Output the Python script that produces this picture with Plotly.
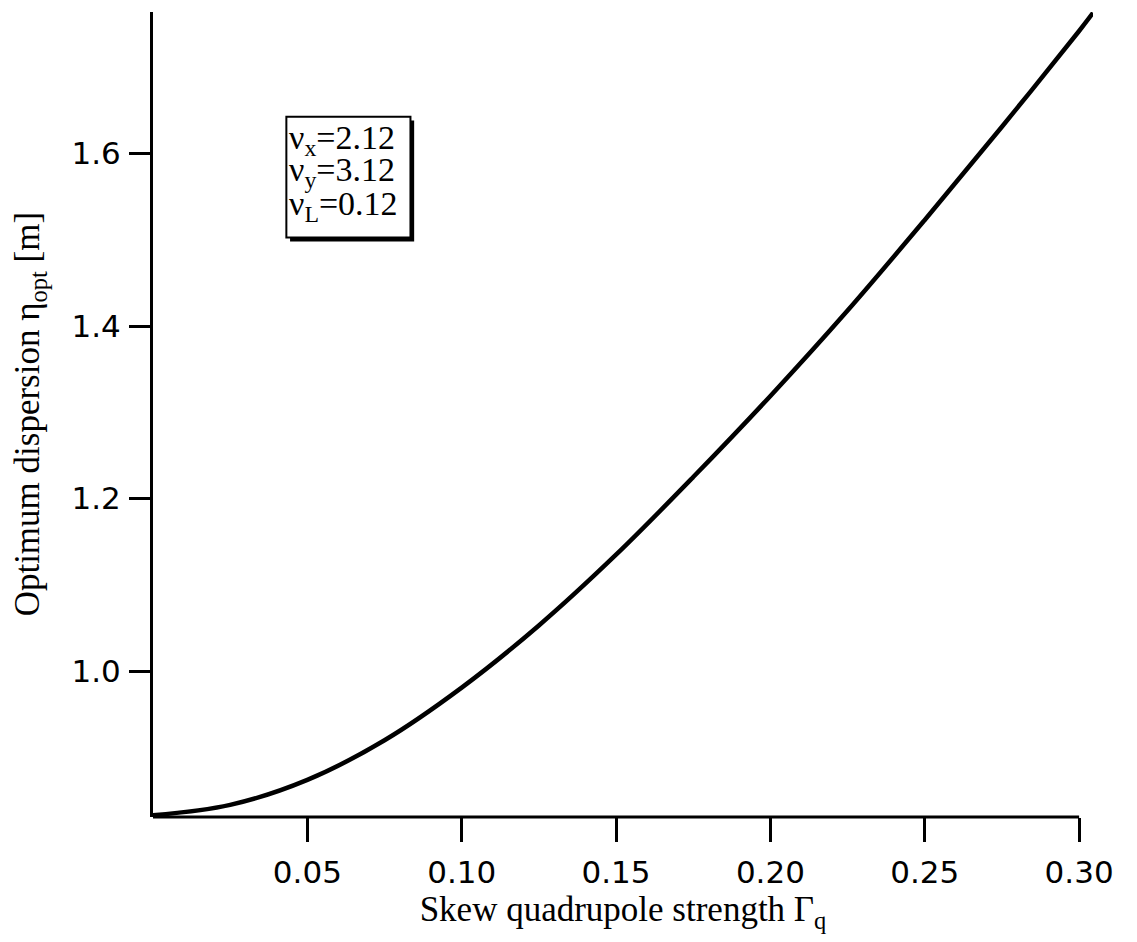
import plotly.graph_objects as go

# Data
gamma_q = [0.0, 0.025, 0.05, 0.075, 0.10, 0.125, 0.15, 0.175,
           0.20, 0.225, 0.25, 0.275, 0.30, 0.3045]
eta_opt = [0.833, 0.845, 0.874, 0.920, 0.981, 1.053, 1.135, 1.225,
           1.319, 1.418, 1.523, 1.631, 1.742, 1.763]

x_ticks = [0.05, 0.10, 0.15, 0.20, 0.25, 0.30]
x_ticklabels = ["0.05", "0.10", "0.15", "0.20", "0.25", "0.30"]
y_ticks = [1.0, 1.2, 1.4, 1.6]
y_ticklabels = ["1.0", "1.2", "1.4", "1.6"]

tune_lines = ["ν<sub>x</sub>=2.12", "ν<sub>y</sub>=3.12", "ν<sub>L</sub>=0.12"]

X_RANGE = [0.0, 0.3045]
Y_RANGE = [0.831, 1.764]

fig = go.Figure()
fig.add_trace(go.Scatter(x=gamma_q, y=eta_opt, mode="lines",
                         line=dict(color="black", width=4.5, shape="spline", smoothing=1.0),
                         showlegend=False, hoverinfo="skip"))

serif = "Liberation Serif, Times New Roman, serif"
sans = "DejaVu Sans, sans-serif"

fig.update_layout(
    width=1137, height=942,
    margin=dict(l=153, r=44, t=12, b=125),
    paper_bgcolor="white", plot_bgcolor="white",
    xaxis=dict(range=X_RANGE, showgrid=False, zeroline=False, showline=False,
               tickmode="array", tickvals=x_ticks, ticktext=x_ticklabels,
               ticks="outside", ticklen=24, tickwidth=3, tickcolor="black",
               ticklabelstandoff=4,
               tickfont=dict(family=sans, size=31, color="black"),
               title=dict(text="Skew quadrupole strength Γ<sub>q</sub>",
                          font=dict(family=serif, size=35, color="black"),
                          standoff=6)),
    yaxis=dict(range=Y_RANGE, showgrid=False, zeroline=False, showline=True,
               linecolor="black", linewidth=3, mirror=False,
               tickmode="array", tickvals=y_ticks, ticktext=y_ticklabels,
               ticks="outside", ticklen=21, tickwidth=3, tickcolor="black",
               ticklabelstandoff=2,
               tickfont=dict(family=sans, size=31, color="black")),
)

# y-axis title
fig.add_annotation(x=-0.131, y=0.5, xref="paper", yref="paper",
                   text="Optimum dispersion η<sub>opt</sub> [m]", textangle=-90,
                   showarrow=False, xanchor="center", yanchor="middle",
                   font=dict(family=serif, size=35, color="black"))

# x-axis line (ends at 0.30 like the reference)
fig.add_shape(type="line", xref="x", yref="paper", x0=0, x1=0.30, y0=0, y1=0,
              line=dict(color="black", width=3))

# Parameter box with drop shadow
bx0, bx1, by0, by1 = 0.0432, 0.0834, 1.5026, 1.6427
fig.add_shape(type="rect", xref="x", yref="y", x0=bx0 + 0.0012, x1=bx1 + 0.0012,
              y0=by0 - 0.0045, y1=by1 - 0.0045, line=dict(width=0),
              fillcolor="black", layer="above")
fig.add_shape(type="rect", xref="x", yref="y", x0=bx0, x1=bx1, y0=by0, y1=by1,
              line=dict(color="black", width=2), fillcolor="white", layer="above")

line_y = [1.616, 1.578, 1.539]
for txt, yy in zip(tune_lines, line_y):
    fig.add_annotation(x=bx0 + 0.0003, y=yy, xref="x", yref="y", text=txt,
                       showarrow=False, xanchor="left", yanchor="middle",
                       font=dict(family=serif, size=34, color="black"))

fig.write_html("out.html")
